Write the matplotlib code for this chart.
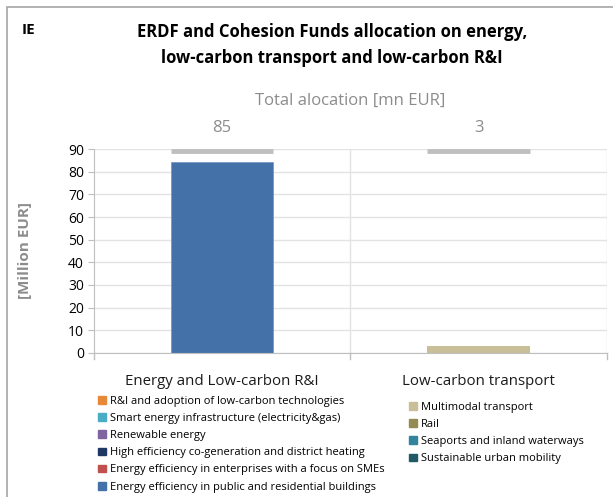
import numpy as np
import matplotlib.pyplot as plt
from matplotlib.patches import Patch, Rectangle

plt.rcParams['font.family'] = ['Open Sans', 'DejaVu Sans']

categories = ['Energy and Low-carbon R&I', 'Low-carbon transport']
totals = [85, 3]
total_marker = [89, 89]

energy_names = ['R&I and adoption of low-carbon technologies',
                'Smart energy infrastructure (electricity&gas)',
                'Renewable energy',
                'High efficiency co-generation and district heating',
                'Energy efficiency in enterprises with a focus on SMEs',
                'Energy efficiency in public and residential buildings']
energy_colors = ['#E8893A', '#4BACC6', '#8064A2', '#1F3864', '#C0504D', '#4472A8']
energy_values = [0, 0, 0, 0, 0, 84.5]

transport_names = ['Multimodal transport', 'Rail',
                   'Seaports and inland waterways', 'Sustainable urban mobility']
transport_colors = ['#C8BF98', '#948A54', '#31849B', '#215967']
transport_values = [3.0, 0, 0, 0]

fig = plt.figure(figsize=(6.13, 4.97), dpi=100)
ax = fig.add_axes([0.153, 0.29, 0.837, 0.41])

# outer frame
fig.patches.append(Rectangle((7 / 613, -0.1), 1.2, 1 - 7 / 497 + 0.1,
                             transform=fig.transFigure, fill=False,
                             edgecolor='#a6a6a6', lw=1.2))

x = np.arange(len(categories))
w = 0.4

bottom = 0
for v, c in zip(energy_values, energy_colors):
    if v > 0:
        ax.bar(x[0], v, w, bottom=bottom, color=c, edgecolor='#6f94c4', lw=0.5)
    bottom += v
bottom = 0
for v, c in zip(transport_values, transport_colors):
    if v > 0:
        ax.bar(x[1], v, w, bottom=bottom, color=c)
    bottom += v

ax.hlines(total_marker, x - w / 2, x + w / 2, colors='#bfbfbf', lw=3.5, zorder=3)

ax.set_xlim(-0.5, 1.5)
ax.set_ylim(0, 90)
ax.set_yticks(np.arange(0, 91, 10))
ax.set_xticks([])
ax.grid(axis='y', color='#e3e3e3', lw=1)
ax.set_axisbelow(True)
for xv in [0.5, 1.5]:
    ax.axvline(xv, color='#e3e3e3', lw=1, zorder=0)
for s in ['top', 'right']:
    ax.spines[s].set_visible(False)
ax.spines['left'].set_color('#bfbfbf')
ax.spines['bottom'].set_color('#bfbfbf')
ax.tick_params(axis='y', length=4, color='#bfbfbf', labelsize=10, pad=3)
# category separator ticks
for xv in [-0.5, 0.5, 1.5]:
    ax.plot([xv, xv], [0, -2.5], color='#bfbfbf', lw=1, clip_on=False)

for xi, lab in zip(x, categories):
    ax.text(xi, -12.5, lab, ha='center', va='center', fontsize=10.8, color='#1a1a1a')
for xi, t in zip(x, totals):
    ax.text(xi, 99.5, str(t), ha='center', va='center', fontsize=12, color='#8c8c8c')
ax.text(0.5, 111.5, 'Total alocation [mn EUR]', ha='center', va='center',
        fontsize=12, color='#8c8c8c')

ax.set_ylabel('[Million EUR]', fontsize=11, color='#8c8c8c', fontweight='bold', labelpad=26)

fig.text(22 / 613, 1 - 30 / 497, 'IE', fontsize=11, fontweight='bold', va='center')
fig.text(332 / 613, 1 - 45 / 497,
         'ERDF and Cohesion Funds allocation on energy,\nlow-carbon transport and low-carbon R&I',
         ha='center', va='center', fontsize=12, fontweight='bold', linespacing=1.55)

h1 = [Patch(color=c, label=n) for n, c in zip(energy_names, energy_colors)]
h2 = [Patch(color=c, label=n) for n, c in zip(transport_names, transport_colors)]
leg_kw = dict(frameon=False, fontsize=8, handlelength=0.7, handleheight=0.7,
              handletextpad=0.4, labelspacing=0.55, borderpad=0, borderaxespad=0)
fig.legend(handles=h1, loc='upper left', bbox_to_anchor=(98 / 613, 1 - 396 / 497), **leg_kw)
fig.legend(handles=h2, loc='upper left', bbox_to_anchor=(409 / 613, 1 - 402 / 497), **leg_kw)

fig.savefig('out.png', dpi=100)
